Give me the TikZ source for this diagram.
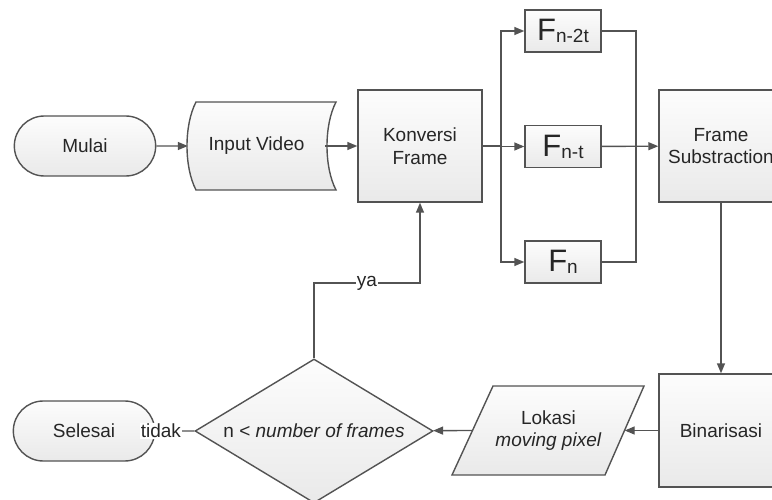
\documentclass[tikz,border=0pt]{standalone}
\usepackage{fontspec}
\setmainfont{Liberation Sans}
\usetikzlibrary{shapes.geometric,shapes.misc,arrows.meta}

\begin{document}
\begin{tikzpicture}[x=1pt,y=-1pt,
  font=\fontsize{19}{22.5}\selectfont,
  every node/.style={text=black!85},
  gradbox/.style={top color=gray!2,bottom color=gray!17,draw=gray!65!black,line width=1.4pt},
  proc/.style={gradbox,rectangle,minimum width=124,minimum height=112,align=center},
  term/.style={gradbox,rounded rectangle,minimum width=148,minimum height=60},
  frm/.style={gradbox,rectangle,minimum width=76,minimum height=42,inner sep=0},
  decision/.style={gradbox,diamond,minimum width=238,minimum height=144,inner sep=0},
  line/.style={draw=gray!65!black,line width=1.4pt},
  arrow/.style={line,-{Triangle[length=10pt,width=8pt]}}]
  \useasboundingbox (0,0) rectangle (772,500);

  \node[term] (mulai) at (85,146) {Mulai};
  \draw[gradbox] (196,102) -- (336,102) .. controls (324,125) and (324,167) .. (336,190)
    -- (196,190) .. controls (184,167) and (184,125) .. (196,102) -- cycle;
  \node[minimum width=137] (input) at (256.5,146) {Input Video};
  \node[proc] (konv) at (420,146) {Konversi\\Frame};
  \foreach \nm/\y/\sub in {fa/31/n-2t,fb/146.5/n-t,fc/262/n}
    \node[frm] (\nm) at (563,\y)
      {{\fontsize{31}{31}\selectfont F}\raisebox{-2pt}{\fontsize{19}{19}\selectfont \sub}};
  \node[proc] (fsub) at (721,146) {Frame\\Substraction};
  \node[proc,minimum height=113] (bin) at (721,430.5) {Binarisasi};
  \draw[gradbox] (493,386) -- (644,386) -- (605,475) -- (452,475) -- cycle;
  \node[minimum width=152,align=center] (lokasi) at (548.5,430.5) {Lokasi\\\textit{moving pixel}};
  \node[decision] (check) at (314,431) {\makebox[0pt]{n < \textit{number of frames}}};
  \node[term] (selesai) at (84,431) {Selesai};

  \coordinate (fork) at (501,146);
  \coordinate (join) at (636,146);
  \coordinate (ybend) at (314,283);

  \draw[arrow] (mulai) -- (input.west);
  \draw[arrow] (input.east) -- (konv);
  \draw[line] (konv) -- (fork);
  \foreach \nm in {fa,fb,fc}
    \draw[arrow] (fork) |- (\nm);
  \foreach \nm in {fa,fc}
    \draw[line] (\nm) -| (join);
  \draw[arrow] (fb) -- (fsub);
  \draw[arrow] (fsub) -- (bin);
  \draw[arrow] (bin) -- (lokasi.east);
  \draw[arrow] (lokasi.west) -- (check);
  \draw[arrow] (check) -- node[pos=0.86,fill=white,inner sep=1pt] {tidak} (selesai);
  \draw[arrow] (check) -- (ybend) -| node[pos=0.25,fill=white,inner sep=1pt] {ya} (konv);
\end{tikzpicture}
\end{document}
